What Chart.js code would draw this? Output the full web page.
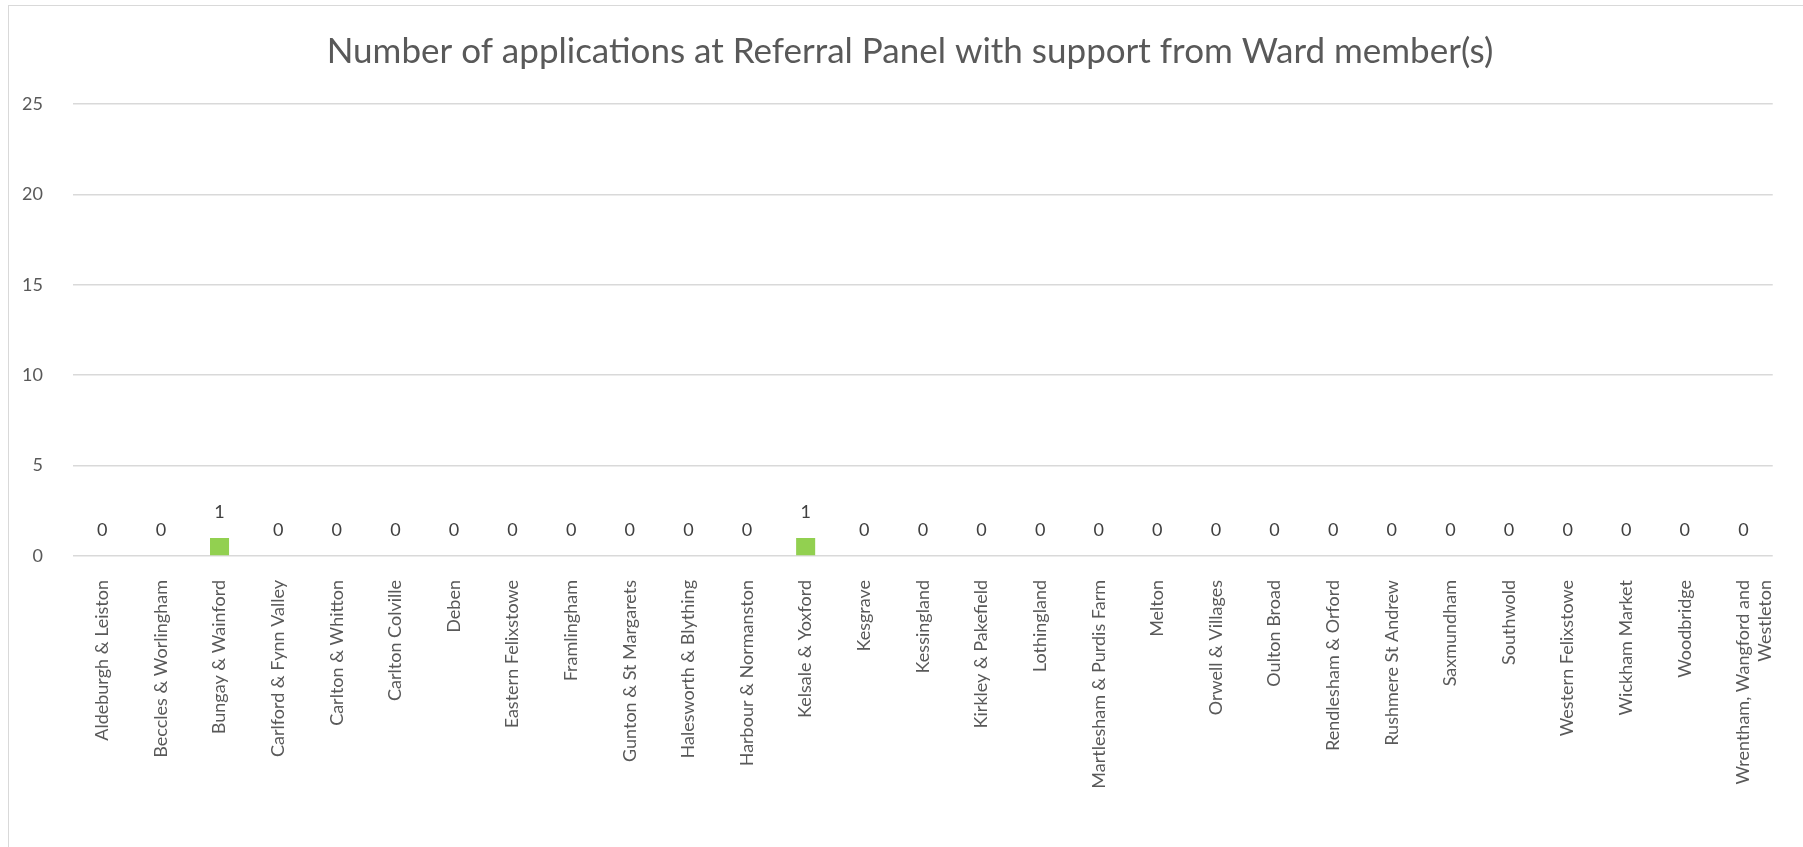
<!DOCTYPE html>
<html>
<head>
<meta charset="utf-8">
<title>Referral Panel applications by ward</title>
<script src="https://cdn.jsdelivr.net/npm/chart.js@4/dist/chart.umd.min.js"></script>
<style>
  html, body { margin: 0; padding: 0; background: #ffffff; }
  canvas { display: block; }
</style>
</head>
<body>
<canvas id="chart" width="1803" height="847"></canvas>
<script>
// Wards (categories)
const wards = [
  "Aldeburgh & Leiston", "Beccles & Worlingham", "Bungay & Wainford",
  "Carlford & Fynn Valley", "Carlton & Whitton", "Carlton Colville", "Deben",
  "Eastern Felixstowe", "Framlingham", "Gunton & St Margarets",
  "Halesworth & Blything", "Harbour & Normanston", "Kelsale & Yoxford",
  "Kesgrave", "Kessingland", "Kirkley & Pakefield", "Lothingland",
  "Martlesham & Purdis Farm", "Melton", "Orwell & Villages", "Oulton Broad",
  "Rendlesham & Orford", "Rushmere St Andrew", "Saxmundham", "Southwold",
  "Western Felixstowe", "Wickham Market", "Woodbridge",
  ["Wrentham, Wangford and", "Westleton"]
];

// Applications with support from ward member(s)
const supportedApplications = [
  0, 0, 1, 0, 0, 0, 0, 0, 0, 0, 0, 0, 1, 0, 0, 0, 0, 0, 0, 0, 0, 0, 0, 0, 0, 0, 0, 0, 0
];

// Value axis ticks
const yTicks = [0, 5, 10, 15, 20, 25];

const chartTitle = "Number of applications at Referral Panel with support from Ward member(s)";

const FONT = "Lato, 'Open Sans', sans-serif";

// Thin frame around the chart
const framePlugin = {
  id: 'frame',
  beforeDraw(chart) {
    const ctx = chart.ctx;
    ctx.save();
    ctx.fillStyle = '#ffffff';
    ctx.fillRect(0, 0, chart.width, chart.height);
    ctx.strokeStyle = '#d9d9d9';
    ctx.lineWidth = 1;
    ctx.strokeRect(8.5, 5.5, chart.width + 10, chart.height + 10);
    ctx.restore();
  }
};

// Value labels above each bar
const valueLabels = {
  id: 'valueLabels',
  afterDatasetsDraw(chart) {
    const ctx = chart.ctx;
    ctx.save();
    ctx.font = "18px " + FONT;
    ctx.fillStyle = '#404040';
    ctx.textAlign = 'center';
    ctx.textBaseline = 'middle';
    chart.data.datasets.forEach((ds, di) => {
      chart.getDatasetMeta(di).data.forEach((bar, i) => {
        ctx.fillText(String(ds.data[i]), bar.x, bar.y - 26);
      });
    });
    ctx.restore();
  }
};

new Chart(document.getElementById('chart'), {
  type: 'bar',
  data: {
    labels: wards,
    datasets: [{
      data: supportedApplications,
      backgroundColor: '#92d050',
      borderWidth: 0,
      categoryPercentage: 1,
      barPercentage: 0.325
    }]
  },
  options: {
    responsive: false,
    animation: false,
    // the frame runs past the right edge, so the title is centred on the wider frame
    layout: { padding: { left: 0, right: -17, top: 0, bottom: 0 } },
    plugins: {
      legend: { display: false },
      tooltip: { enabled: false },
      title: {
        display: true,
        text: chartTitle,
        color: '#595959',
        font: { family: FONT, size: 35, weight: 'normal', lineHeight: 1.2 },
        padding: { top: 31, bottom: 31 }
      }
    },
    scales: {
      x: {
        grid: { display: false },
        border: { display: false },
        ticks: {
          color: '#595959',
          font: { family: FONT, size: 18 },
          minRotation: 90,
          maxRotation: 90,
          autoSkip: false,
          padding: 16
        },
        afterFit(scale) { scale.height = 291; }
      },
      y: {
        min: 0,
        max: 25,
        afterBuildTicks(scale) { scale.ticks = yTicks.map(v => ({ value: v })); },
        grid: { color: '#d9d9d9', lineWidth: 1.5, drawTicks: false },
        border: { display: false },
        ticks: {
          color: '#595959',
          font: { family: FONT, size: 18 },
          padding: 30
        },
        afterFit(scale) { scale.width = 73; }
      },
      // blank right-hand margin of the plot
      yRight: {
        position: 'right',
        min: 0,
        max: 25,
        grid: { display: false },
        border: { display: false },
        ticks: { display: false },
        afterFit(scale) { scale.width = 38; }
      }
    }
  },
  plugins: [framePlugin, valueLabels]
});
</script>
</body>
</html>
